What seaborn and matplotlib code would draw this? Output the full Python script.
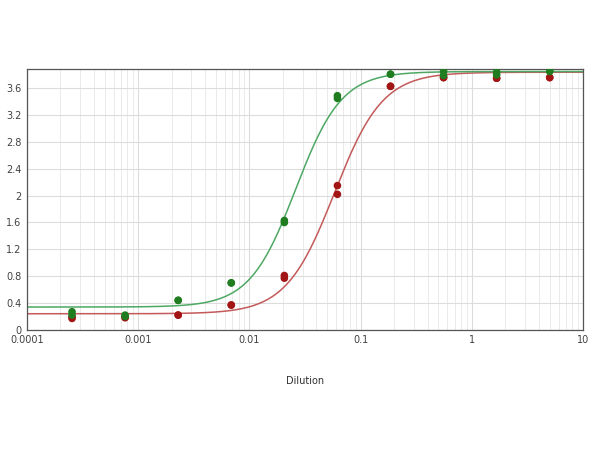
import numpy as np
import pandas as pd
import matplotlib
matplotlib.use("Agg")
import matplotlib.pyplot as plt
import seaborn as sns
from matplotlib.ticker import FixedLocator, LogLocator, NullFormatter

# dilution series (3-fold) and duplicate readings
dilution = [5, 1.667, 0.5556, 0.1852, 0.06173, 0.02058, 0.006859, 0.002286, 0.000762, 0.000254]
green_rep1 = [3.87, 3.84, 3.85, 3.81, 3.49, 1.63, 0.70, 0.44, 0.22, 0.27]
green_rep2 = [3.85, 3.80, 3.79, 3.81, 3.45, 1.60, 0.70, 0.44, 0.20, 0.22]
red_rep1 = [3.76, 3.75, 3.76, 3.63, 2.15, 0.81, 0.37, 0.22, 0.19, 0.19]
red_rep2 = [3.76, 3.75, 3.76, 3.63, 2.02, 0.77, 0.37, 0.22, 0.18, 0.17]

# 4PL fit parameters: bottom, top, EC50, hill
green_fit = (0.34, 3.85, 0.026, 2.1)
red_fit = (0.24, 3.84, 0.058, 2.0)

green_pt = "#1f7d1f"
green_ln = "#4ea864"
red_pt = "#a31515"
red_ln = "#c45a5a"


def four_pl(x, p):
    bottom, top, ec50, hill = p
    return bottom + (top - bottom) / (1 + (ec50 / x) ** hill)


pts = pd.DataFrame({
    "Dilution": dilution * 4,
    "OD": red_rep1 + red_rep2 + green_rep1 + green_rep2,
    "Series": ["red"] * 20 + ["green"] * 20,
})
xs = np.logspace(-4, 1, 400)
curves = pd.DataFrame({
    "Dilution": np.concatenate([xs, xs]),
    "OD": np.concatenate([four_pl(xs, red_fit), four_pl(xs, green_fit)]),
    "Series": ["red"] * len(xs) + ["green"] * len(xs),
})

sns.set_style("white")
fig = plt.figure(figsize=(6, 4.5), dpi=100)
ax = fig.add_axes([0.045, 0.267, 0.927, 0.58])

sns.lineplot(data=curves, x="Dilution", y="OD", hue="Series",
             palette={"green": green_ln, "red": red_ln}, lw=1.1,
             legend=False, ax=ax, estimator=None, sort=True)
sns.scatterplot(data=pts, x="Dilution", y="OD", hue="Series",
                palette={"green": green_pt, "red": red_pt}, s=30,
                edgecolor="none", legend=False, ax=ax, zorder=3)

ax.set_xscale("log")
ax.set_xlim(0.0001, 10)
ax.set_ylim(0, 3.89)
ax.xaxis.set_major_locator(FixedLocator([0.0001, 0.001, 0.01, 0.1, 1, 10]))
ax.set_xticklabels(["0.0001", "0.001", "0.01", "0.1", "1", "10"])
ax.xaxis.set_minor_locator(LogLocator(base=10, subs=np.arange(2, 10), numticks=50))
ax.xaxis.set_minor_formatter(NullFormatter())
ax.set_yticks(np.arange(0, 3.61, 0.4))
ax.set_yticklabels(["0", "0.4", "0.8", "1.2", "1.6", "2", "2.4", "2.8", "3.2", "3.6"])

ax.grid(True, which="major", color="#dcdcdc", lw=0.8)
ax.grid(True, which="minor", axis="x", color="#e6e6e6", lw=0.6)
ax.set_axisbelow(True)
ax.tick_params(axis="both", which="both", length=0, labelsize=7, colors="#404040", pad=4)
for s in ax.spines.values():
    s.set_color("#555555")
    s.set_linewidth(0.9)

ax.set_xlabel("Dilution", fontsize=7, color="#303030", labelpad=22)
ax.set_ylabel("")

fig.savefig("out.png", dpi=100)
